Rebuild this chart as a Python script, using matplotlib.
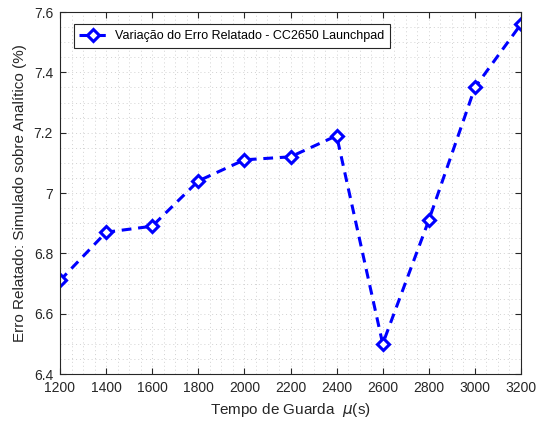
import matplotlib
matplotlib.use("Agg")
import matplotlib.pyplot as plt
from matplotlib.ticker import MultipleLocator, FuncFormatter

plt.rcParams['font.family'] = ['Liberation Sans', 'DejaVu Sans']
plt.rcParams['mathtext.fontset'] = 'dejavusans'

guard_time = [1200, 1400, 1600, 1800, 2000, 2200, 2400, 2600, 2800, 3000, 3200]
relative_error = [6.71, 6.87, 6.89, 7.04, 7.11, 7.12, 7.19, 6.50, 6.91, 7.35, 7.56]
x_ticks = [1200, 1400, 1600, 1800, 2000, 2200, 2400, 2600, 2800, 3000, 3200]
y_ticks = [6.4, 6.6, 6.8, 7.0, 7.2, 7.4, 7.6]

fig = plt.figure(figsize=(5.42, 4.23), dpi=100)
ax = fig.add_axes([0.1107, 0.1158, 0.8506, 0.8558])

ax.plot(guard_time, relative_error, linestyle=(0, (3.2, 2.2)), color='#0000ff',
        linewidth=2.2, marker='D', markersize=6.5, markerfacecolor='white',
        markeredgecolor='#0000ff', markeredgewidth=2.2,
        label='Variação do Erro Relatado - CC2650 Launchpad')

ax.set_xlim(1200, 3200)
ax.set_ylim(6.4, 7.6)
ax.set_xticks(x_ticks)
ax.set_yticks(y_ticks)
ax.yaxis.set_major_formatter(FuncFormatter(lambda v, p: f'{v:g}'))
ax.xaxis.set_minor_locator(MultipleLocator(50))
ax.yaxis.set_minor_locator(MultipleLocator(0.05))

ax.grid(which='both', color='#d2d2d2', linestyle=(0, (1, 3)), linewidth=0.7)
ax.set_axisbelow(True)

ax.tick_params(which='major', direction='in', top=True, right=True,
               length=4.5, width=0.8, labelsize=10, colors='#262626',
               labelcolor='#262626', pad=5)
ax.tick_params(which='minor', length=0, top=True, right=True)
for s in ax.spines.values():
    s.set_color('#262626')
    s.set_linewidth(0.8)

ax.set_xlabel(r'Tempo de Guarda  $\mu$(s)', fontsize=11, color='#262626', labelpad=4)
ax.set_ylabel('Erro Relatado: Simulado sobre Analítico (%)', fontsize=11,
              color='#262626', labelpad=5)

leg = ax.legend(loc='upper left', bbox_to_anchor=(0.030, 0.966), fontsize=9,
                frameon=True, fancybox=False, framealpha=1, edgecolor='#262626',
                borderpad=0.45, handlelength=2.1, handletextpad=0.75,
                borderaxespad=0)
leg.get_frame().set_linewidth(0.8)

fig.savefig('out.png', dpi=100)
